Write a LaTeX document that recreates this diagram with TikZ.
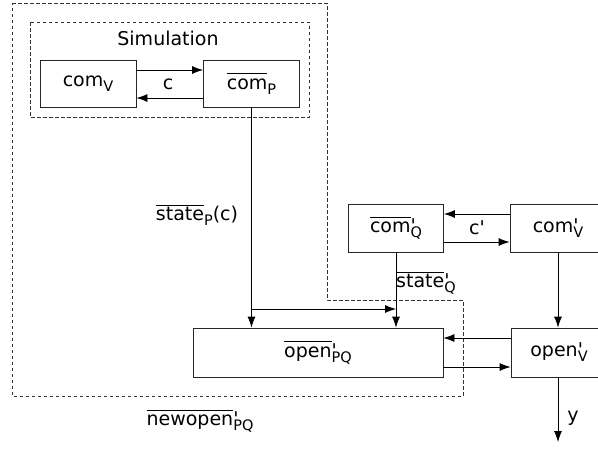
\documentclass[tikz,border=0pt]{standalone}
\usepackage{fontspec}
\setmainfont{DejaVu Sans}[Ligatures=TeXOff]
\usetikzlibrary{arrows.meta}
\newcommand{\ovl}[1]{$\overline{\mbox{\vphantom{l}#1}}$}
\newcommand{\pr}{\makebox[0pt][l]{'}}
\newcommand{\sub}[1]{\raisebox{-5pt}{\fontsize{14.5}{14.5}\selectfont #1}}
\begin{document}
\begin{tikzpicture}[x=1pt,y=-1pt,
  box/.style={draw=black!85,line width=0.8pt,minimum width=96pt,minimum height=47pt,inner sep=0pt},
  arr/.style={-{Latex[length=11pt,width=8pt]},line width=0.8pt},
  dsh/.style={draw=black!80,line width=0.7pt,dash pattern=on 3.5pt off 2.5pt},
  lbl/.style={inner sep=0pt}]
\useasboundingbox (0,0) rectangle (598,448);
\fontsize{19}{22}\selectfont
% dashed regions
\draw[dsh] (12,3) -- (327,3) -- (327,300) -- (463,300) -- (463,396) -- (12,396) -- cycle;
\draw[dsh] (30,22) rectangle (309,117);
% boxes
\node[box] (comV) at (88,83.5) {com\sub{V}};
\node[box] (comP) at (251.5,83.5) {\ovl{com}\sub{P}};
\node[box,minimum width=95pt,minimum height=48pt] (comQ) at (396,228) {\ovl{com}\pr\sub{Q}};
\node[box,minimum height=48pt] (comV2) at (558,228) {com\pr\sub{V}};
\node[box,minimum width=250pt,minimum height=49pt] (openPQ) at (318,352.5) {\ovl{open}\pr\sub{PQ}};
\node[box,minimum height=49pt] (openV2) at (559,352.5) {open\pr\sub{V}};
% labels
\node[lbl] (sim) at (168,38) {Simulation};
\node[lbl] (c) at (168,84) {c};
\node[lbl] (cp) at (477,228) {c'};
\node[lbl] (stP) at (197,215) {\ovl{state}\sub{P}(c)};
\node[lbl] (stQ) at (426,283) {\ovl{state}\pr\sub{Q}};
\node[lbl] (newo) at (200,421) {\ovl{newopen}\pr\sub{PQ}};
\node[lbl] (y) at (573,418) {y};
% connectors
\draw[arr] ([yshift=13.5pt]comV.east) -- ([yshift=13.5pt]comP.west);
\draw[arr] ([yshift=-14.5pt]comP.west) -- ([yshift=-14.5pt]comV.east);
\draw[arr] (comP.south) -- (comP.south |- openPQ.north);
\coordinate (brA) at (251.5,309);
\draw[arr] (brA) -- (brA -| comQ.south);
\draw[arr] (comQ.south) -- (comQ.south |- openPQ.north);
\draw[arr] ([yshift=14pt]comV2.west) -- ([yshift=14pt]comQ.east);
\draw[arr] ([yshift=-14pt]comQ.east) -- ([yshift=-14pt]comV2.west);
\draw[arr] (comV2.south) -- (comV2.south |- openV2.north);
\draw[arr] ([yshift=14.5pt]openV2.west) -- ([yshift=14.5pt]openPQ.east);
\draw[arr] ([yshift=-14.5pt]openPQ.east) -- ([yshift=-14.5pt]openV2.west);
\coordinate (yend) at (558,442);
\draw[arr] (openV2.south -| comV2.south) -- (yend);
\end{tikzpicture}
\end{document}
